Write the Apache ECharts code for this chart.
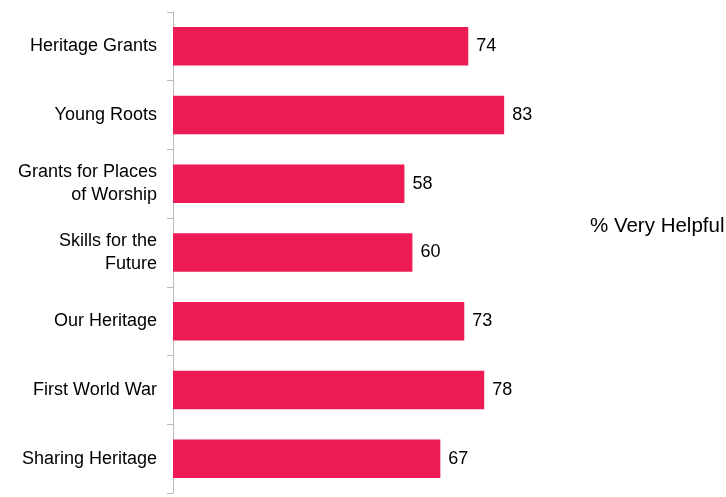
<!DOCTYPE html>
<html>
<head>
<meta charset="utf-8">
<script src="https://cdn.jsdelivr.net/npm/echarts@6/dist/echarts.min.js"></script>
<style>
  html, body {margin: 0; padding: 0; background: #fff;}
  #chart {width: 726px; height: 497px;}
</style>
</head>
<body>
<div id="chart"></div>
<script>
const categories = [
  "Heritage Grants",
  "Young Roots",
  "Grants for Places\nof Worship",
  "Skills for the\nFuture",
  "Our Heritage",
  "First World War",
  "Sharing Heritage",
];
const veryHelpful = [74, 83, 58, 60, 73, 78, 67];
const seriesName = "% Very Helpful";

const chart = echarts.init(document.getElementById("chart"));
const font = "Liberation Sans, Arial, sans-serif";

chart.setOption({
  animation: false,
  textStyle: {fontFamily: font},
  grid: {left: 173, right: 154, top: 12, bottom: 4},
  legend: {
    data: [{name: seriesName, icon: "none"}],
    left: 585, top: 216, padding: 0,
    itemWidth: 0, itemGap: 0,
    textStyle: {fontSize: 20.5, color: "#000", fontFamily: font, padding: 0},
  },
  xAxis: {
    type: "value", min: 0, max: 100,
    show: false,
  },
  yAxis: {
    type: "category", data: categories, inverse: true,
    axisLine: {lineStyle: {color: "#bbbbbb", width: 1}},
    axisTick: {show: true, length: 6, lineStyle: {color: "#bbbbbb"}},
    axisLabel: {
      color: "#000", fontSize: 18, margin: 16, lineHeight: 23,
      align: "right", fontFamily: font,
    },
  },
  series: [{
    name: seriesName,
    type: "bar",
    data: veryHelpful,
    barWidth: "56%",
    itemStyle: {color: "#ED1B53"},
    label: {
      show: true, position: "right", distance: 8,
      color: "#000", fontSize: 18, fontFamily: font,
    },
  }],
});
</script>
</body>
</html>
